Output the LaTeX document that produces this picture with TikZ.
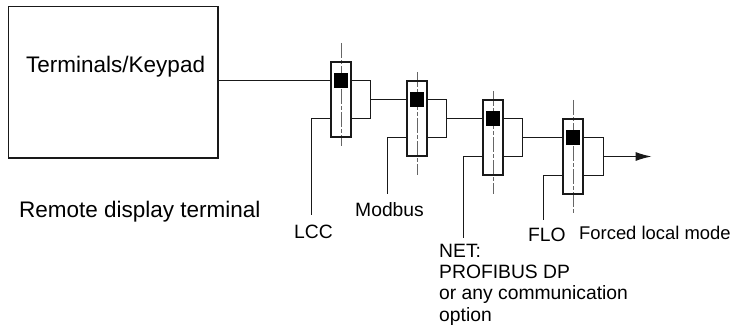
\documentclass[tikz,border=0pt]{standalone}
\usepackage{fontspec}
\setmainfont{Liberation Sans}
\usetikzlibrary{arrows.meta}
\tikzset{
  wire/.style={line width=1.4pt, black!90},
  axisline/.style={line width=.8pt, black!60, dash pattern=on 15pt off 2pt on 4pt off 2pt},
  contactbox/.style={draw, line width=1.4pt, black!90, minimum width=20pt, minimum height=75pt, inner sep=0pt},
  contactdot/.style={fill=black, minimum size=14.5pt, inner sep=0pt},
  biglabel/.style={anchor=base west, inner sep=0pt, font=\fontsize{22.5}{27}\selectfont},
  smalllabel/.style={anchor=base west, inner sep=0pt, font=\fontsize{19.3}{21.3}\selectfont},
}
\begin{document}
\begin{tikzpicture}
  \newcommand\X{76pt}
  \newcommand\Y{19pt}
  \useasboundingbox (0,0) rectangle (733pt,-326pt);

  % terminal
  \node[draw, wire, minimum width=209.5pt, minimum height=151.5pt, inner sep=0pt] (term) at (113.25pt,-82.25pt) {};
  \node[biglabel] (termtext) at (26pt,-72.7pt) {Terminals/Keypad};
  \node[biglabel] (remote) at (19pt,-217pt) {Remote display terminal};

  % axis first, the boxes go over them
  \coordinate (c0) at (341pt, -99.5pt);
  \coordinate (c1) at (1*\X+341pt, -1*\Y-99.5pt);
  \coordinate (c2) at (2*\X+341pt, -2*\Y-99.5pt);
  \coordinate (c3) at (3*\X+345pt, -3*\Y-99.5pt);
  \draw[axisline] ([yshift=56.5pt]c0) -- ([yshift=-46.5pt]c0);
  \draw[axisline] ([yshift=46.5pt]c1) -- ([yshift=-56.5pt]c1);
  \draw[axisline] ([yshift=46.5pt]c2) -- ([yshift=-56.5pt]c2);
  \draw[axisline] ([yshift=56.5pt]c3) -- ([yshift=-56.5pt]c3);

  \node[contactbox] (lcc) at (c0) {};
  \node[contactbox] (modbus) at (c1) {};
  \node[contactbox] (net) at (c2) {};
  \node[contactbox] (flo) at (c3) {};
  \node[contactdot] (lccdot) at ([yshift=\Y]c0) {};
  \node[contactdot] (modbusdot) at ([yshift=\Y]c1) {};
  \node[contactdot] (netdot) at ([yshift=\Y]c2) {};
  \node[contactdot] (flodot) at ([yshift=\Y]c3) {};

  % labels
  \node[smalllabel] (lcctext) at (294pt,-238.7pt) {LCC};
  \node[smalllabel] (modbustext) at (355pt,-216pt) {Modbus};
  \node[smalllabel, align=left] (nettext) at (439pt,-321pt) {NET:\\PROFIBUS DP\\or any communication\\option};
  \node[smalllabel] (flotext) at (528pt,-241pt) {FLO};
  \node[smalllabel, font=\fontsize{18.4}{22}\selectfont] (forced) at (579pt,-239pt) {Forced local mode};

  % brackets on the right of each box
  \coordinate (j0) at ([xshift=19pt]lcc.east);
  \coordinate (j1) at ([xshift=19pt]modbus.east);
  \coordinate (j2) at ([xshift=19pt]net.east);
  \coordinate (j3) at ([xshift=19.5pt]flo.east);
  \coordinate (out) at ([xshift=68pt]flo.east);

  \draw[wire] (term.east |- lccdot) -- ([yshift=\Y]lcc.west); % terminal->LCC
  \draw[wire] ([yshift=\Y]lcc.east) -| (j0) |- ([yshift=-\Y]lcc.east);
  \draw[wire] (j0) -- ([yshift=\Y]modbus.west);
  \draw[wire] ([yshift=\Y]modbus.east) -| (j1) |- ([yshift=-\Y]modbus.east);
  \draw[wire] (j1) -- ([yshift=\Y]net.west);
  \draw[wire] ([yshift=\Y]net.east) -| (j2) |- ([yshift=-\Y]net.east);
  \draw[wire] (j2) -- ([yshift=\Y]flo.west);
  \draw[wire] ([yshift=\Y]flo.east) -| (j3) |- ([yshift=-\Y]flo.east);
  \draw[wire, -{Latex[length=16pt,width=9pt]}] (j3) -- (out);

  % stubs on the left of each box
  \coordinate (lccend) at ([xshift=-19pt,yshift=-115.5pt]lcc.west);
  \coordinate (modbusend) at ([xshift=-19pt,yshift=-75.5pt]modbus.west);
  \coordinate (netend) at ([xshift=-19pt,yshift=-100.5pt]net.west);
  \coordinate (floend) at ([xshift=-19pt,yshift=-63.5pt]flo.west);
  \draw[wire] ([yshift=-\Y]lcc.west) -| (lccend);
  \draw[wire] ([yshift=-\Y]modbus.west) -| (modbusend);
  \draw[wire] ([yshift=-\Y]net.west) -| (netend);
  \draw[wire] ([yshift=-\Y]flo.west) -| (floend);
\end{tikzpicture}
\end{document}
